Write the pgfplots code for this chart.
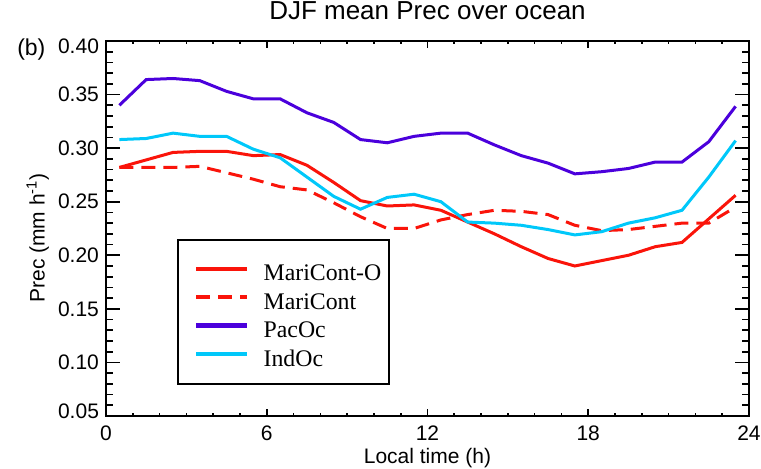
\documentclass[border=0pt]{standalone}
\usepackage{pgfplots}
\pgfplotsset{compat=1.18}
\usepackage{fontspec}
\setmainfont{Liberation Sans}
\newfontfamily\legfont{Liberation Serif}
\definecolor{cRed}{RGB}{250,20,10}
\definecolor{cPac}{RGB}{75,0,220}
\definecolor{cInd}{RGB}{0,200,250}
\begin{document}
\begin{tikzpicture}
\begin{axis}[
  scale only axis,
  width=321.5pt, height=187.5pt,
  xmin=0, xmax=24, ymin=0.05, ymax=0.40,
  xtick={0,6,12,18,24}, minor x tick num=5,
  ytick={0.05,0.10,0.15,0.20,0.25,0.30,0.35,0.40}, minor y tick num=4,
  yticklabels={{},0.10,0.15,0.20,0.25,0.30,0.35,{}},
  tick align=inside,
  axis line style={line width=1pt},
  every tick/.style={black, line width=0.8pt},
  xtick style={/pgfplots/major tick length=3.6pt,/pgfplots/minor tick length=1.7pt},
  ytick style={/pgfplots/major tick length=7pt,/pgfplots/minor tick length=3.5pt},
  /pgf/number format/assume math mode=true,
  ticklabel style={font=\fontsize{10.5}{12}\selectfont},
  xticklabel style={yshift=-1.5pt},
  xlabel={Local time (h)},
  xlabel style={font=\fontsize{10.5}{12}\selectfont, at={(axis description cs:0.5,-0.112)}, anchor=center},
  ylabel={Prec (mm h\textsuperscript{-1})},
  ylabel style={font=\fontsize{10.5}{12}\selectfont, at={(axis description cs:-0.106,0.475)}, anchor=center},
  title={DJF mean Prec over ocean},
  title style={font=\fontsize{13}{15}\selectfont, at={(axis description cs:0.5,1.024)}, anchor=base},
  legend cell align=left,
  legend style={at={(axis cs:2.69,0.2142)}, anchor=north west, yshift=-2.5pt, draw=none, fill=none,
    font=\legfont\fontsize{11.9}{14}\selectfont,
    inner xsep=4.5pt, inner ysep=9.2pt, row sep=3.2pt,
    nodes={inner sep=0pt, text height=8.5pt, text depth=2.5pt},
    /tikz/column sep=7pt},
  legend image code/.code={\path[draw=none] (0pt,3pt) -- (30pt,3pt); \draw[#1, line width=2.2pt] (4.5pt,3pt) -- (30pt,3pt);},
  clip=false,
]
\draw[black, line width=1pt] (axis cs:2.687,0.2143) rectangle (axis cs:10.56,0.0799);
\addplot[cRed, line width=1.5pt] coordinates {
(0.5,0.282) (1.5,0.289) (2.5,0.296) (3.5,0.297) (4.5,0.297) (5.5,0.293)
(6.5,0.294) (7.5,0.284) (8.5,0.268) (9.5,0.251) (10.5,0.246) (11.5,0.247)
(12.5,0.242) (13.5,0.231) (14.5,0.220) (15.5,0.208) (16.5,0.197) (17.5,0.190)
(18.5,0.195) (19.5,0.200) (20.5,0.208) (21.5,0.212) (22.5,0.234) (23.5,0.256)};
\addlegendentry{MariCont-O}
\addplot[cRed, line width=1.5pt, dash pattern=on 7pt off 4pt] coordinates {
(0.5,0.282) (1.5,0.282) (2.5,0.282) (3.5,0.283) (4.5,0.277) (5.5,0.271)
(6.5,0.264) (7.5,0.261) (8.5,0.249) (9.5,0.236) (10.5,0.225) (11.5,0.225)
(12.5,0.233) (13.5,0.238) (14.5,0.242) (15.5,0.241) (16.5,0.238) (17.5,0.228)
(18.5,0.223) (19.5,0.224) (20.5,0.227) (21.5,0.230) (22.5,0.230) (23.5,0.245)};
\addlegendentry{MariCont}
\addplot[cPac, line width=1.5pt] coordinates {
(0.5,0.340) (1.5,0.364) (2.5,0.365) (3.5,0.363) (4.5,0.353) (5.5,0.346)
(6.5,0.346) (7.5,0.333) (8.5,0.324) (9.5,0.308) (10.5,0.305) (11.5,0.311)
(12.5,0.314) (13.5,0.314) (14.5,0.303) (15.5,0.293) (16.5,0.286) (17.5,0.276)
(18.5,0.278) (19.5,0.281) (20.5,0.287) (21.5,0.287) (22.5,0.306) (23.5,0.339)};
\addlegendentry{PacOc}
\addplot[cInd, line width=1.5pt] coordinates {
(0.5,0.308) (1.5,0.309) (2.5,0.314) (3.5,0.311) (4.5,0.311) (5.5,0.299)
(6.5,0.291) (7.5,0.273) (8.5,0.255) (9.5,0.243) (10.5,0.254) (11.5,0.257)
(12.5,0.250) (13.5,0.231) (14.5,0.230) (15.5,0.228) (16.5,0.224) (17.5,0.219)
(18.5,0.222) (19.5,0.230) (20.5,0.235) (21.5,0.242) (22.5,0.273) (23.5,0.307)};
\addlegendentry{IndOc}
\node[anchor=west, font=\fontsize{11.5}{13}\selectfont] at (axis description cs:-0.149,0.976) {(b)};
\node[anchor=east, inner sep=0.333em, yshift=-2.8pt, font=\fontsize{10.5}{12}\selectfont] at (axis description cs:0,1) {0.40};
\node[anchor=east, inner sep=0.333em, yshift=2.5pt, font=\fontsize{10.5}{12}\selectfont] at (axis description cs:0,0) {0.05};
\end{axis}
\pgfresetboundingbox
\path[use as bounding box] (current axis.south west) ++(-53pt,-26.5pt) rectangle ++(380.5pt,234.5pt);
\end{tikzpicture}
\end{document}
